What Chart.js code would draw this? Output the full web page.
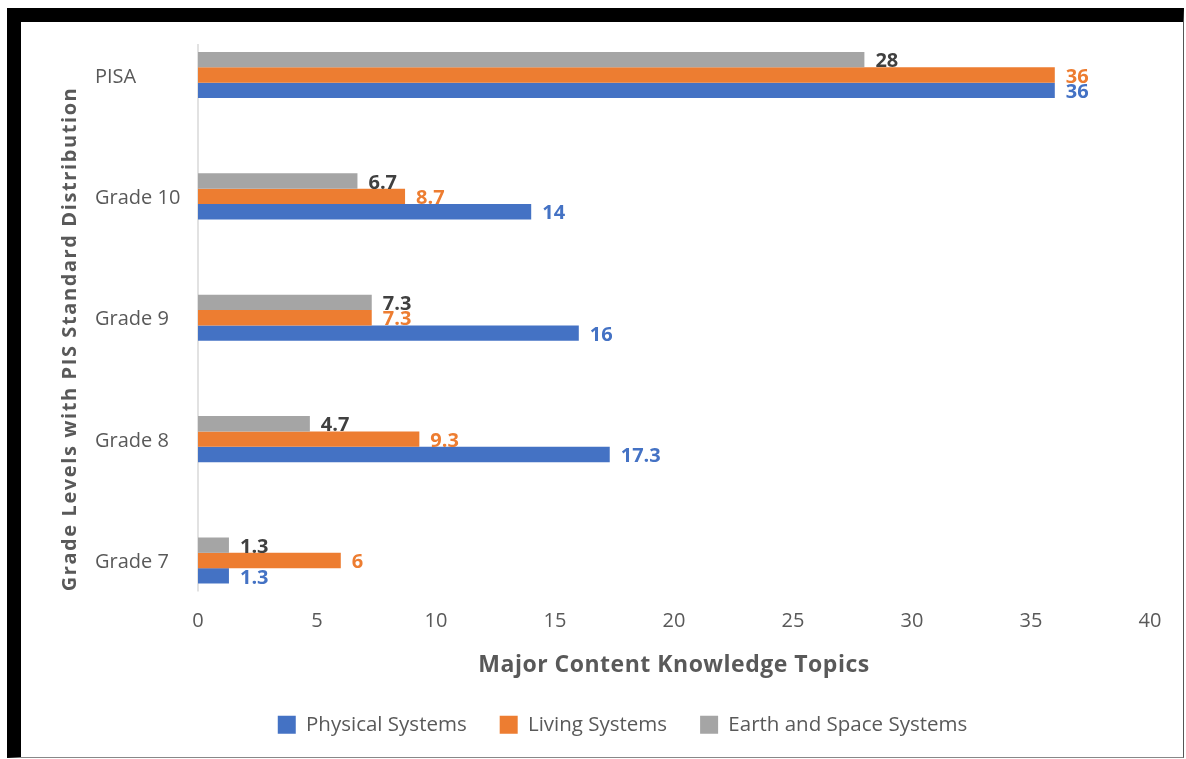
<!DOCTYPE html>
<html>
<head>
<meta charset="utf-8">
<script src="https://cdn.jsdelivr.net/npm/chart.js@4.4.1/dist/chart.umd.min.js"></script>
<style>
  html, body { margin: 0; padding: 0; background: #fff; }
  #wrap { position: relative; width: 1186px; height: 759px; overflow: hidden; }
  #frame {
    position: absolute; left: 7px; top: 8px; width: 1162px; height: 735px;
    border-top: 14px solid #000; border-left: 14px solid #000;
    border-right: 1px solid #555; border-bottom: 1px solid #888;
  }
  #chart { position: absolute; left: 0; top: 0; }
</style>
</head>
<body>
<div id="wrap">
  <div id="frame"></div>
  <canvas id="chart" width="1186" height="759"></canvas>
</div>
<script>
// categories, top to bottom
const grades = ['PISA', 'Grade 10', 'Grade 9', 'Grade 8', 'Grade 7'];
// series values
const physical = [36, 14, 16, 17.3, 1.3];
const living = [36, 8.7, 7.3, 9.3, 6];
const earthSpace = [28, 6.7, 7.3, 4.7, 1.3];
const xTicks = [0, 5, 10, 15, 20, 25, 30, 35, 40];

const FONT = "'Open Sans', 'Noto Sans', sans-serif";
const GREY_TEXT = '#595959';

// value labels at the bar ends, coloured like the series
const barLabels = {
    id: 'barLabels',
    afterDatasetsDraw(chart) {
        const ctx = chart.ctx;
        ctx.save();
        ctx.font = 'bold 20px ' + FONT;
        ctx.textAlign = 'left';
        ctx.textBaseline = 'middle';
        chart.data.datasets.forEach((ds, i) => {
            const meta = chart.getDatasetMeta(i);
            ctx.fillStyle = ds.labelColor;
            meta.data.forEach((bar, j) => {
                ctx.fillText(String(ds.data[j]), bar.x + 11, bar.y + 2);
            });
        });
        ctx.restore();
    }
};

// vertical axis line and both axis titles
const axisExtras = {
    id: 'axisExtras',
    beforeDatasetsDraw(chart) {
        const ctx = chart.ctx;
        const x0 = chart.scales.x.getPixelForValue(0);
        const area = chart.chartArea;
        ctx.save();
        ctx.strokeStyle = '#d9d9d9';
        ctx.lineWidth = 1.5;
        ctx.beginPath();
        ctx.moveTo(x0, area.top - 31);
        ctx.lineTo(x0, area.bottom + 31);
        ctx.stroke();
        ctx.restore();
    },
    afterDraw(chart) {
        const ctx = chart.ctx;
        const area = chart.chartArea;
        ctx.save();
        ctx.fillStyle = GREY_TEXT;
        ctx.textAlign = 'center';
        ctx.textBaseline = 'middle';
        ctx.font = 'bold 23px ' + FONT;
        ctx.letterSpacing = '0.5px';
        ctx.fillText('Major Content Knowledge Topics', (area.left + area.right) / 2, 665);
        ctx.translate(70, 339);
        ctx.rotate(-Math.PI / 2);
        ctx.font = 'bold 20px ' + FONT;
        ctx.letterSpacing = '1.6px';
        ctx.fillText('Grade Levels with PIS Standard Distribution', 0, 0);
        ctx.restore();
    }
};

const legendOrder = ['Physical Systems', 'Living Systems', 'Earth and Space Systems'];

new Chart(document.getElementById('chart'), {
    type: 'bar',
    data: {
        labels: grades,
        datasets: [
            { label: 'Earth and Space Systems', data: earthSpace, backgroundColor: '#a5a5a5', labelColor: '#404040' },
            { label: 'Living Systems', data: living, backgroundColor: '#ed7d31', labelColor: '#ed7d31' },
            { label: 'Physical Systems', data: physical, backgroundColor: '#4472c4', labelColor: '#4472c4' }
        ]
    },
    options: {
        indexAxis: 'y',
        responsive: false,
        animation: false,
        datasets: {
            bar: { categoryPercentage: 0.379, barPercentage: 1, borderWidth: 0, clip: false }
        },
        layout: { padding: { left: 95, top: 75, right: 36, bottom: 14 } },
        scales: {
            y: {
                type: 'category',
                offset: false,
                grid: { display: false, drawTicks: false },
                border: { display: false },
                ticks: { crossAlign: 'far', labelOffset: 2, color: GREY_TEXT, font: { family: FONT, size: 20 } },
                afterFit(scale) { scale.width = 103; }
            },
            x: {
                type: 'linear',
                min: 0,
                max: 40,
                afterBuildTicks(scale) { scale.ticks = xTicks.map(v => ({ value: v })); },
                grid: { display: false, drawTicks: false },
                border: { display: false },
                ticks: { padding: 49, color: GREY_TEXT, font: { family: FONT, size: 20 } },
                afterFit(scale) {
                    scale.height = 121;
                    scale.paddingLeft = 0;
                    scale.paddingRight = 0;
                }
            }
        },
        plugins: {
            legend: {
                position: 'bottom',
                labels: {
                    boxWidth: 18,
                    boxHeight: 18,
                    padding: 33,
                    color: GREY_TEXT,
                    font: { family: FONT, size: 20.5 },
                    sort: (a, b) => legendOrder.indexOf(a.text) - legendOrder.indexOf(b.text)
                }
            },
            tooltip: { enabled: false }
        }
    },
    plugins: [axisExtras, barLabels]
});
</script>
</body>
</html>
